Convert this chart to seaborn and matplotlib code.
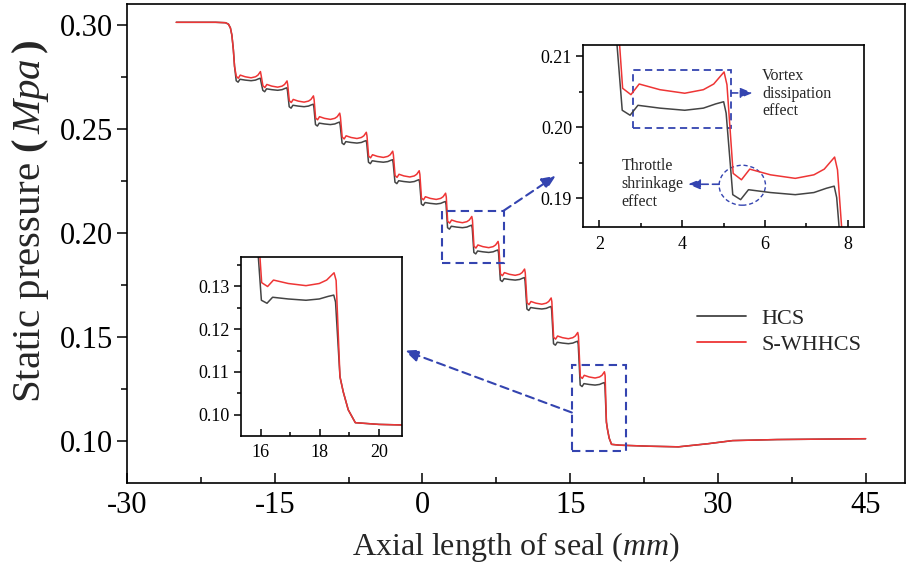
import matplotlib
matplotlib.use("Agg")
import matplotlib.pyplot as plt
import pandas as pd
import seaborn as sns
from matplotlib.patches import Rectangle, Ellipse
from matplotlib.ticker import MultipleLocator, FormatStrFormatter

# ---------------------------------------------------------------- data
series_names = ["HCS", "S-WHHCS"]

# axial position (mm) where each seal cavity begins
cavity_start = [-19.0, -16.3, -13.62, -10.95, -8.25, -5.57, -2.88,
                -0.2, 2.46, 5.13, 7.82, 10.52, 13.22, 15.93]

# plateau static pressure (MPa) inside each cavity
hcs_level = [0.2731, 0.2685, 0.2606, 0.2520, 0.2431, 0.2339, 0.2243,
             0.2138, 0.2024, 0.1905, 0.1772, 0.1633, 0.1466, 0.1267]
swhhcs_level = [0.2745, 0.2700, 0.2628, 0.2545, 0.2453, 0.2362, 0.2268,
                0.2160, 0.2048, 0.1928, 0.1795, 0.1656, 0.1490, 0.1301]

# pressure shape inside one cavity: distance from cavity start (mm)
# and deviation from the plateau level (MPa)
hcs_cavity_dx = [0.09, 0.28, 0.47, 1.00, 1.60, 2.05, 2.35, 2.54, 2.60]
hcs_cavity_dp = [0.0000, -0.0007, 0.0007, 0.0003, 0.0, 0.0003, 0.0009, 0.0012, -0.0004]
swhhcs_cavity_dx = [0.10, 0.30, 0.50, 1.00, 1.60, 2.05, 2.30, 2.55, 2.62]
swhhcs_cavity_dp = [0.0007, -0.0002, 0.0013, 0.0005, 0.0, 0.0005, 0.0013, 0.0030, 0.0012]

# inlet chamber and outlet region (shared by both seals)
inlet_x = [-25.0, -21.0, -20.0, -19.7, -19.5, -19.35, -19.2, -19.08]
inlet_p = [0.3012, 0.3012, 0.3010, 0.3003, 0.2985, 0.2950, 0.2880, 0.2800]
outlet_x = [18.68, 18.79, 18.96, 19.2, 20.0, 23.0, 26.0, 29.0, 31.5, 36.0, 45.0]
outlet_p = [0.1089, 0.1054, 0.1012, 0.0982, 0.0978, 0.0973, 0.0970, 0.0985, 0.1000, 0.1005, 0.1009]


def seal_curve(levels, dxs, dps):
    xs, ps = list(inlet_x), list(inlet_p)
    for start, level in zip(cavity_start, levels):
        for dx, dp in zip(dxs, dps):
            xs.append(start + dx)
            ps.append(level + dp)
    xs += outlet_x
    ps += outlet_p
    return xs, ps


rows = []
for name, lev, dxs, dps in [("HCS", hcs_level, hcs_cavity_dx, hcs_cavity_dp),
                            ("S-WHHCS", swhhcs_level, swhhcs_cavity_dx, swhhcs_cavity_dp)]:
    xs, ps = seal_curve(lev, dxs, dps)
    rows += [{"x": a, "p": b, "series": name} for a, b in zip(xs, ps)]
df = pd.DataFrame(rows)

palette = {"HCS": "#444444", "S-WHHCS": "#EE3535"}
blue = "#3444B0"

# ---------------------------------------------------------------- style
sns.set_theme(style="ticks")
plt.rcParams["font.family"] = ["Liberation Serif", "DejaVu Serif"]
plt.rcParams["mathtext.fontset"] = "custom"
plt.rcParams["mathtext.rm"] = "Liberation Serif"
plt.rcParams["mathtext.it"] = "Liberation Serif:italic"
plt.rcParams["mathtext.bf"] = "Liberation Serif:bold"
plt.rcParams["axes.edgecolor"] = "black"
plt.rcParams["xtick.color"] = "black"
plt.rcParams["ytick.color"] = "black"
plt.rcParams["axes.unicode_minus"] = False

W, H = 913, 566
fig = plt.figure(figsize=(W / 100, H / 100), dpi=100)


def axes_px(left, top, right, bottom):
    return fig.add_axes([left / W, 1 - bottom / H, (right - left) / W, (bottom - top) / H])


def draw_lines(axis, legend):
    sns.lineplot(data=df, x="x", y="p", hue="series", hue_order=series_names,
                 palette=palette, estimator=None, sort=False, linewidth=1.1,
                 ax=axis, legend=legend)


def style_axis(axis, size, major_len, minor_len, xpad):
    for s in axis.spines.values():
        s.set_linewidth(1.2)
        s.set_color("black")
    axis.tick_params(axis="x", which="both", direction="in", width=1.1,
                     labelsize=size, pad=xpad)
    axis.tick_params(axis="y", which="both", direction="out", width=1.1,
                     labelsize=size, pad=3)
    axis.tick_params(which="major", length=major_len)
    axis.tick_params(which="minor", length=minor_len)
    axis.set_xlabel("")
    axis.set_ylabel("")


# ---------------------------------------------------------------- main axes
ax = axes_px(127, 4, 905, 483)
draw_lines(ax, True)
ax.set_xlim(-30, 49)
ax.set_ylim(0.0796, 0.310)
ax.xaxis.set_major_locator(MultipleLocator(15))
ax.xaxis.set_minor_locator(MultipleLocator(7.5))
ax.yaxis.set_major_locator(MultipleLocator(0.05))
ax.yaxis.set_minor_locator(MultipleLocator(0.025))
ax.yaxis.set_major_formatter(FormatStrFormatter("%.2f"))
style_axis(ax, 22, 7, 4, 6)
ax.set_xlabel(r"Axial length of seal ($\mathit{mm}$)", fontsize=23, labelpad=7)
ax.set_ylabel(r"Static pressure $\mathbf{(}\,\mathit{Mpa}\,\mathbf{)}$", fontsize=29.5)
ax.yaxis.set_label_coords(-0.098, 0.545)

leg = ax.get_legend()
handles = leg.legend_handles
labels = [t.get_text() for t in leg.get_texts()]
for h in handles:
    h.set_linewidth(1.3)
ax.legend(handles, labels, loc="upper left", bbox_to_anchor=(697 / W, 1 - 308 / H),
          bbox_transform=fig.transFigure, frameon=False, fontsize=16,
          handlelength=2.2, handletextpad=0.7, labelspacing=0.25,
          borderpad=0, borderaxespad=0)

dash = (0, (4, 2.5))
ax.add_patch(Rectangle((1.95, 0.1856), 6.3, 0.025, fill=False, ec=blue, lw=1.5, ls=dash, zorder=5))
ax.add_patch(Rectangle((15.17, 0.0949), 5.53, 0.0416, fill=False, ec=blue, lw=1.5, ls=dash, zorder=5))
arrow_kw = dict(arrowstyle="-|>,head_length=0.7,head_width=0.3", color=blue, lw=1.5,
                linestyle=dash, shrinkA=0, shrinkB=0)
ax.annotate("", xy=(13.54, 0.2274), xytext=(8.25, 0.2106), arrowprops=arrow_kw)
ax.annotate("", xy=(-1.82, 0.1433), xytext=(15.17, 0.1135), arrowprops=arrow_kw)

# ---------------------------------------------------------------- inset: cavities 9-10
in1 = axes_px(583.3, 45, 864, 227.3)
draw_lines(in1, False)
in1.set_xlim(1.61, 8.39)
in1.set_ylim(0.1859, 0.2116)
in1.xaxis.set_major_locator(MultipleLocator(2))
in1.xaxis.set_minor_locator(MultipleLocator(1))
in1.yaxis.set_major_locator(MultipleLocator(0.01))
in1.yaxis.set_minor_locator(MultipleLocator(0.005))
in1.yaxis.set_major_formatter(FormatStrFormatter("%.2f"))
style_axis(in1, 13, 5, 3, 6)

small_dash = (0, (4, 2.5))
in1.add_patch(Rectangle((2.81, 0.1999), 2.37, 0.0082, fill=False, ec=blue, lw=1.3, ls=small_dash))
in1.add_patch(Ellipse((5.45, 0.19183), 1.12, 0.00563, fill=False, ec=blue, lw=1.0, ls=(0, (3, 2))))
small_arrow = dict(arrowstyle="-|>,head_length=0.6,head_width=0.25", color=blue, lw=1.2,
                   linestyle=small_dash, shrinkA=0, shrinkB=0)
in1.annotate("", xy=(5.70, 0.20484), xytext=(5.18, 0.20484), arrowprops=small_arrow)
in1.annotate("", xy=(4.14, 0.19197), xytext=(4.89, 0.19197), arrowprops=small_arrow)
in1.text(5.93, 0.20474, "Vortex\ndissipation\neffect", fontsize=11.5, ha="left",
         va="center", linespacing=1.15)
in1.text(2.54, 0.1920, "Throttle\nshrinkage\neffect", fontsize=11.5, ha="left",
         va="center", linespacing=1.15)

# ---------------------------------------------------------------- inset: last cavity
in2 = axes_px(240.7, 257.3, 402.3, 436)
draw_lines(in2, False)
in2.set_xlim(15.32, 20.79)
in2.set_ylim(0.0951, 0.1367)
in2.xaxis.set_major_locator(MultipleLocator(2))
in2.xaxis.set_minor_locator(MultipleLocator(1))
in2.yaxis.set_major_locator(MultipleLocator(0.01))
in2.yaxis.set_minor_locator(MultipleLocator(0.005))
in2.yaxis.set_major_formatter(FormatStrFormatter("%.2f"))
style_axis(in2, 13, 5, 3, 6)

fig.savefig("out.png", dpi=100)
